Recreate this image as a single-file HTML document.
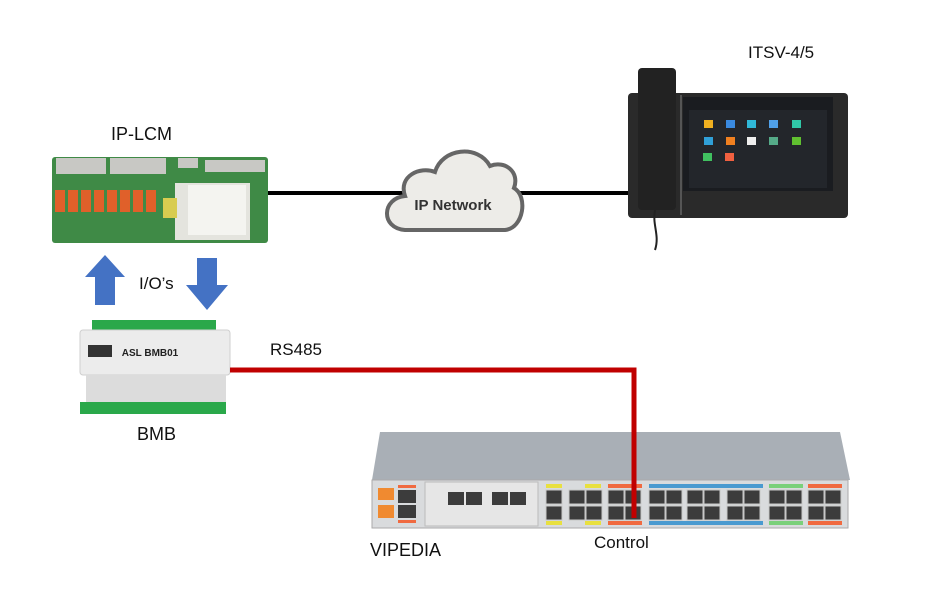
<!DOCTYPE html>
<html><head><meta charset="utf-8"><style>
html,body{margin:0;padding:0;background:#fff;}
body{width:938px;height:593px;position:relative;overflow:hidden;font-family:"Liberation Sans",sans-serif;}
.t{position:absolute;font-size:18px;color:#111;font-family:"Liberation Sans",sans-serif;}
</style></head><body>
<svg width="938" height="593" style="position:absolute;left:0;top:0">
<!-- black network line -->
<line x1="266" y1="193" x2="640" y2="193" stroke="#000" stroke-width="4"/>
<!-- IP-LCM board -->
<rect x="52" y="157" width="216" height="86" rx="3" fill="#3f8a46"/>
<rect x="56" y="158" width="50" height="16" fill="#c8c8c4"/>
<rect x="110" y="158" width="56" height="16" fill="#c8c8c4"/>
<rect x="178" y="158" width="20" height="10" fill="#c8c8c4"/>
<rect x="205" y="160" width="60" height="12" fill="#c8c8c4"/>
<g fill="#e0602a"><rect x="55" y="190" width="10" height="22"/><rect x="68" y="190" width="10" height="22"/><rect x="81" y="190" width="10" height="22"/><rect x="94" y="190" width="10" height="22"/><rect x="107" y="190" width="10" height="22"/><rect x="120" y="190" width="10" height="22"/><rect x="133" y="190" width="10" height="22"/><rect x="146" y="190" width="10" height="22"/></g>
<rect x="175" y="183" width="75" height="57" fill="#e4e4de"/>
<rect x="188" y="185" width="58" height="50" fill="#f4f4f0"/>
<rect x="163" y="198" width="14" height="20" fill="#d8cc50"/>
<!-- cloud -->
<path d="M405,230 C380,228 382,198 405,196 C398,176 420,166 435,172 C442,148 478,144 490,166 C505,160 520,172 514,188 C528,196 524,228 505,230 Z" fill="#edece8" stroke="#666" stroke-width="4"/>
<text x="453" y="210" font-family="Liberation Sans,sans-serif" font-weight="bold" font-size="15" text-anchor="middle" fill="#333">IP Network</text>
<!-- phone -->
<rect x="628" y="93" width="220" height="125" rx="4" fill="#2a2a2a"/>
<rect x="683" y="97" width="150" height="94" fill="#1a1c20"/>
<rect x="689" y="110" width="138" height="78" fill="#23262b"/>
<g><rect x="704" y="120" width="9" height="8" fill="#f0b020"/><rect x="726" y="120" width="9" height="8" fill="#3a8ae0"/><rect x="747" y="120" width="9" height="8" fill="#30b8d8"/><rect x="769" y="120" width="9" height="8" fill="#50a0e8"/><rect x="792" y="120" width="9" height="8" fill="#30c8a8"/>
<rect x="704" y="137" width="9" height="8" fill="#30a0d8"/><rect x="726" y="137" width="9" height="8" fill="#f08020"/><rect x="747" y="137" width="9" height="8" fill="#eee"/><rect x="769" y="137" width="9" height="8" fill="#5a8"/><rect x="792" y="137" width="9" height="8" fill="#60c030"/>
<rect x="703" y="153" width="9" height="8" fill="#40c060"/><rect x="725" y="153" width="9" height="8" fill="#f06040"/></g>
<rect x="638" y="68" width="38" height="142" rx="4" fill="#222"/>
<rect x="680" y="95" width="2" height="120" fill="#555"/>
<path d="M655,210 C652,225 660,235 655,250" stroke="#222" stroke-width="2" fill="none"/>
<!-- arrows -->
<path d="M105,255 L125,277 L115,277 L115,305 L95,305 L95,277 L85,277 Z" fill="#4472c4"/>
<path d="M197,258 L217,258 L217,285 L228,285 L207,310 L186,285 L197,285 Z" fill="#4472c4"/>
<!-- BMB -->
<rect x="92" y="320" width="124" height="10" fill="#2aa84a"/>
<rect x="80" y="330" width="150" height="45" rx="3" fill="#ececec" stroke="#cfcfcf"/>
<rect x="86" y="375" width="140" height="30" fill="#dcdcdc"/>
<rect x="80" y="402" width="146" height="12" fill="#2aa84a"/>
<rect x="88" y="345" width="24" height="12" fill="#333"/>
<text x="150" y="356" font-family="Liberation Sans,sans-serif" font-weight="bold" font-size="10" text-anchor="middle" fill="#222">ASL BMB01</text>
<!-- VIPEDIA -->
<path d="M380,432 L840,432 L850,480 L372,480 Z" fill="#a9afb6"/>
<rect x="372" y="480" width="476" height="48" fill="#d9dbdd" stroke="#aaa"/>
<rect x="425" y="482" width="113" height="44" fill="#e6e6e6" stroke="#bbb"/>
<g fill="#f08a30"><rect x="378" y="488" width="16" height="12"/><rect x="378" y="505" width="16" height="13"/></g>
<g fill="#3c3c3c"><rect x="398" y="490" width="18" height="13"/><rect x="398" y="505" width="18" height="13"/>
<rect x="448" y="492" width="16" height="13"/><rect x="466" y="492" width="16" height="13"/><rect x="492" y="492" width="16" height="13"/><rect x="510" y="492" width="16" height="13"/></g>
<g fill="#e8e040"><rect x="546" y="484" width="16" height="4"/><rect x="585" y="484" width="16" height="4"/><rect x="546" y="521" width="16" height="4"/><rect x="585" y="521" width="16" height="4"/></g>
<g fill="#f06a40"><rect x="608" y="484" width="34" height="4"/><rect x="608" y="521" width="34" height="4"/><rect x="808" y="484" width="34" height="4"/><rect x="808" y="521" width="34" height="4"/><rect x="398" y="485" width="18" height="3"/><rect x="398" y="520" width="18" height="3"/></g>
<g fill="#4a9ad0"><rect x="649" y="484" width="114" height="4"/><rect x="649" y="521" width="114" height="4"/></g>
<g fill="#7ad07a"><rect x="769" y="484" width="34" height="4"/><rect x="769" y="521" width="34" height="4"/></g>
<g fill="#3c3c3c" stroke="#c8c8c8" stroke-width="1">
<rect x="546" y="490" width="16" height="14"/><rect x="546" y="506" width="16" height="14"/>
<rect x="569" y="490" width="16" height="14"/><rect x="569" y="506" width="16" height="14"/>
<rect x="586" y="490" width="16" height="14"/><rect x="586" y="506" width="16" height="14"/>
<rect x="608" y="490" width="16" height="14"/><rect x="608" y="506" width="16" height="14"/>
<rect x="625" y="490" width="16" height="14"/><rect x="625" y="506" width="16" height="14"/>
<rect x="649" y="490" width="16" height="14"/><rect x="649" y="506" width="16" height="14"/>
<rect x="666" y="490" width="16" height="14"/><rect x="666" y="506" width="16" height="14"/>
<rect x="687" y="490" width="16" height="14"/><rect x="687" y="506" width="16" height="14"/>
<rect x="704" y="490" width="16" height="14"/><rect x="704" y="506" width="16" height="14"/>
<rect x="727" y="490" width="16" height="14"/><rect x="727" y="506" width="16" height="14"/>
<rect x="744" y="490" width="16" height="14"/><rect x="744" y="506" width="16" height="14"/>
<rect x="769" y="490" width="16" height="14"/><rect x="769" y="506" width="16" height="14"/>
<rect x="786" y="490" width="16" height="14"/><rect x="786" y="506" width="16" height="14"/>
<rect x="808" y="490" width="16" height="14"/><rect x="808" y="506" width="16" height="14"/>
<rect x="825" y="490" width="16" height="14"/><rect x="825" y="506" width="16" height="14"/>
</g>
<!-- red RS485 line -->
<polyline points="230,370 634,370 634,518" fill="none" stroke="#c00000" stroke-width="5"/>
</svg>
<div class="t" style="left:111px;top:124px;">IP-LCM</div>
<div class="t" style="left:748px;top:43px;font-size:17px;">ITSV-4/5</div>
<div class="t" style="left:139px;top:274px;font-size:17px;">I/O’s</div>
<div class="t" style="left:137px;top:424px;">BMB</div>
<div class="t" style="left:270px;top:340px;font-size:17px;">RS485</div>
<div class="t" style="left:370px;top:540px;">VIPEDIA</div>
<div class="t" style="left:594px;top:533px;font-size:17px;">Control</div>
</body></html>
